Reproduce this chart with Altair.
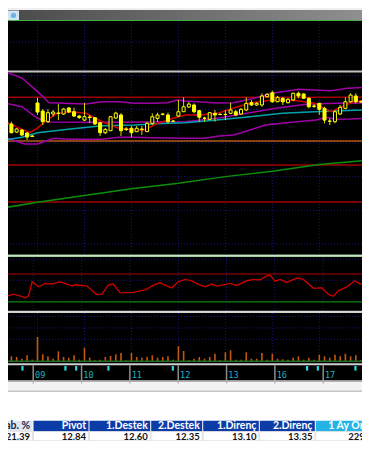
import altair as alt
import pandas as pd

# ---------------- data ----------------
bar_index = list(range(69))
open_p = [13.158, 13.141, 13.081, 13.096, 13.074, 13.052, 13.297, 13.237, 13.158, 13.215,
          13.222, 13.215, 13.260, 13.232, 13.200, 13.170, 13.193, 13.188, 13.150, 13.076,
          13.091, 13.185, 13.208, 13.104, 13.109, 13.084, 13.104, 13.084, 13.146, 13.183,
          13.213, 13.208, 13.163, 13.200, 13.232, 13.267, 13.282, 13.240, 13.185, 13.176,
          13.220, 13.213, 13.213, 13.220, 13.232, 13.215, 13.245, 13.299, 13.282, 13.282,
          13.344, 13.373, 13.306, 13.332, 13.299, 13.319, 13.369, 13.364, 13.332, 13.275,
          13.294, 13.257, 13.163, 13.158, 13.215, 13.257, 13.306, 13.349, 13.306]
high_p = [13.170, 13.158, 13.111, 13.104, 13.081, 13.059, 13.336, 13.252, 13.250, 13.245,
          13.289, 13.260, 13.267, 13.262, 13.208, 13.297, 13.208, 13.193, 13.156, 13.111,
          13.200, 13.232, 13.222, 13.118, 13.126, 13.126, 13.126, 13.156, 13.220, 13.225,
          13.222, 13.225, 13.170, 13.319, 13.339, 13.304, 13.294, 13.245, 13.195, 13.230,
          13.245, 13.220, 13.245, 13.299, 13.245, 13.260, 13.339, 13.319, 13.304, 13.369,
          13.371, 13.388, 13.349, 13.341, 13.334, 13.373, 13.381, 13.369, 13.339, 13.289,
          13.299, 13.269, 13.183, 13.245, 13.282, 13.339, 13.369, 13.369, 13.319]
low_p = [13.118, 13.072, 13.074, 13.052, 13.022, 13.044, 13.208, 13.133, 13.148, 13.195,
         13.170, 13.208, 13.222, 13.193, 13.178, 13.163, 13.148, 13.133, 13.052, 13.066,
         13.089, 13.178, 13.052, 13.089, 13.044, 13.081, 13.059, 13.081, 13.133, 13.158,
         13.204, 13.146, 13.156, 13.193, 13.230, 13.260, 13.220, 13.158, 13.158, 13.170,
         13.158, 13.208, 13.170, 13.215, 13.200, 13.208, 13.237, 13.275, 13.275, 13.269,
         13.338, 13.299, 13.304, 13.282, 13.293, 13.312, 13.332, 13.327, 13.257, 13.260,
         13.208, 13.146, 13.133, 13.146, 13.208, 13.250, 13.299, 13.294, 13.297]
close_p = [13.133, 13.076, 13.104, 13.059, 13.044, 13.048, 13.230, 13.158, 13.225, 13.230,
           13.219, 13.252, 13.230, 13.200, 13.189, 13.195, 13.189, 13.141, 13.076, 13.101,
           13.195, 13.222, 13.091, 13.100, 13.076, 13.109, 13.100, 13.146, 13.195, 13.208,
           13.215, 13.158, 13.161, 13.232, 13.269, 13.289, 13.232, 13.191, 13.183, 13.225,
           13.208, 13.211, 13.211, 13.245, 13.208, 13.250, 13.294, 13.282, 13.294, 13.349,
           13.361, 13.306, 13.339, 13.306, 13.324, 13.369, 13.349, 13.332, 13.269, 13.272,
           13.250, 13.170, 13.161, 13.232, 13.265, 13.306, 13.356, 13.306, 13.304]
volume = [90, 125, 110, 73, 147, 51, 550, 169, 125, 73, 235,
          110, 95, 147, 51, 315, 95, 37, 51, 110, 132,
          169, 198, 37, 198, 110, 95, 110, 147, 95, 110,
          125, 51, 345, 242, 37, 73, 110, 73, 110, 183,
          37, 213, 257, 51, 51, 213, 73, 73, 198, 51,
          183, 73, 59, 51, 95, 125, 51, 95, 51, 161,
          125, 95, 161, 125, 183, 125, 147, 37]

day_index = [6, 15, 24, 33, 42, 51, 60]
day_labels = ["09", "10", "11", "12", "13", "16", "17"]
signal_index = [4, 12, 14, 20, 32, 57, 59, 66, 68]

level_values = [13.531, 13.339, 13.014, 12.836, 12.561]

upper_i = [-0.2, 3.0, 6.0, 7.3, 8.2, 11.0, 15.3, 18.4, 21.6, 24.6, 27.8, 30.9, 32.8, 34.3,
           40.4, 43.6, 46.7, 51.0, 56.1, 59.0, 62.2, 65.4, 68.7]
upper_p = [13.529, 13.483, 13.381, 13.334, 13.299, 13.295, 13.289, 13.306, 13.306, 13.295,
           13.295, 13.299, 13.319, 13.312, 13.297, 13.299, 13.324, 13.369, 13.399, 13.393,
           13.388, 13.406, 13.413]
mid_i = [-0.2, 3.0, 6.0, 8.2, 18.4, 27.7, 34.3, 40.8, 46.4, 51.9, 57.9, 63.1, 68.7]
mid_p = [13.295, 13.269, 13.183, 13.156, 13.153, 13.156, 13.158, 13.185, 13.222, 13.260,
         13.289, 13.295, 13.297]
lower_i = [-0.2, 3.5, 6.0, 9.1, 12.3, 18.4, 21.6, 24.6, 27.7, 34.3, 38.0, 40.8, 43.6, 46.7,
           49.7, 52.9, 55.7, 59.4, 61.3, 63.1, 65.9, 68.7]
lower_p = [13.042, 12.992, 12.992, 13.035, 13.027, 13.027, 13.042, 13.042, 13.039, 13.035,
           13.035, 13.052, 13.059, 13.096, 13.133, 13.146, 13.158, 13.170, 13.191, 13.176,
           13.178, 13.183]
ma_i = [-0.2, 4.5, 6.0, 7.8, 9.7, 12.3, 15.3, 18.4, 21.6, 24.6, 26.4, 29.1, 32.0, 34.3,
        37.1, 40.4, 43.6, 46.7, 51.0, 55.7, 59.1, 62.2, 66.5, 68.7]
ma_p = [13.158, 13.076, 13.111, 13.170, 13.220, 13.232, 13.220, 13.158, 13.109, 13.096,
        13.096, 13.146, 13.183, 13.208, 13.208, 13.220, 13.260, 13.297, 13.319, 13.314,
        13.295, 13.232, 13.306, 13.315]
teal_i = [-0.2, 3.0, 6.0, 12.3, 18.4, 24.6, 30.9, 34.3, 40.4, 46.7, 52.9, 59.0, 68.7]
teal_p = [13.022, 13.042, 13.076, 13.104, 13.128, 13.133, 13.146, 13.150, 13.170, 13.195,
          13.220, 13.232, 13.245]
long_i = [-0.2, 6, 15, 24, 33, 42, 51, 60, 68.7]
long_p = [12.52, 12.56, 12.61, 12.66, 12.70, 12.75, 12.79, 12.84, 12.87]

rsi_i = [-0.2, 1.1, 2.3, 3.5, 4.5, 5.1, 5.8, 7.0, 8.2, 9.4, 11.0, 13.2, 14.1, 16.0, 17.8,
         18.8, 20.0, 20.9, 22.2, 24.6, 25.9, 27.1, 28.4, 29.6, 30.9, 31.8, 33.0, 34.3, 35.5,
         36.8, 38.0, 39.2, 40.2, 41.4, 42.6, 43.9, 45.8, 47.0, 48.2, 49.5, 50.1, 51.0, 52.0,
         53.2, 55.1, 56.3, 58.2, 59.7, 61.0, 61.9, 62.8, 64.4, 65.9, 66.9, 68.7]
rsi_v = [44.4, 38.2, 41.1, 38.7, 35.8, 38.2, 58.9, 51.7, 56.6, 55.6, 58.9, 53.1, 54.5, 52.7,
         40.7, 41.1, 54.5, 55.6, 43.0, 43.6, 45.9, 47.9, 54.1, 57.4, 53.1, 50.2, 58.9, 62.3,
         60.3, 55.1, 51.7, 55.6, 52.7, 54.5, 56.6, 53.7, 60.3, 62.3, 61.3, 67.5, 68.6, 59.9,
         62.3, 58.0, 64.2, 62.3, 49.4, 50.2, 40.7, 38.2, 45.9, 51.7, 60.3, 55.6, 55.6]
rsi_levels = [70, 30]

col_names = ["Yab. %", "Pivot", "1.Destek", "2.Destek", "1.Direnç", "2.Direnç", "1 Ay Ortalama"]
col_values = ["21.39", "12.84", "12.60", "12.35", "13.10", "13.35", "229.415"]

# ---------------- layout / style ----------------
W = 354  # page content width (370 window - 2 x 8 margin)
GRID = "#17177c"
YEL = "#ffff00"
price_grid = [12.25, 12.5, 12.75, 13.0, 13.25, 13.5, 13.75]
rsi_grid = [31, 61, 91]
vol_grid = [500, 750, 1000]
level_colors = ["#c4c4c4", "#a00000", "#b3581a", "#a00000", "#a00000"]
level_widths = [2, 1.5, 1.5, 1.5, 1.5]
col_left = [-40, 33.5, 89.5, 151.2, 203.2, 259.8, 315.8]
col_right = [32.5, 88.5, 150.2, 202.2, 258.8, 314.8, 430]
head_fill = ["#e3e5ec", "#0c3ca6", "#0c3ca6", "#0c3ca6", "#0c3ca6", "#0c3ca6", "#25b3e6"]
head_text = ["#1c2850", "#ffffff", "#ffffff", "#ffffff", "#ffffff", "#ffffff", "#ffffff"]

XS = alt.Scale(domain=[1.3035, 67.225], nice=False, zero=False)
PS = alt.Scale(domain=[12.153, 13.906], nice=False, zero=False)
RS = alt.Scale(domain=[14, 94.5], nice=False, zero=False)
VS = alt.Scale(domain=[0, 1078], nice=False, zero=False)
TS = alt.Scale(domain=[8, 362], nice=False, zero=False)


def X():
    return alt.X("i:Q", scale=XS, axis=None)


one = pd.DataFrame({"k": [0]})
days = pd.DataFrame({"i": day_index, "lab": day_labels})
signals = pd.DataFrame({"i": signal_index})
candles = pd.DataFrame({"i": bar_index, "open": open_p, "high": high_p,
                        "low": low_p, "close": close_p})
vol_df = pd.DataFrame({"i": bar_index, "v": volume})


def vgrid():
    return alt.Chart(days).mark_rule(color=GRID, strokeDash=[1, 2], strokeWidth=1,
                                     clip=True).encode(x=X())


def hgrid(vals, field, scale):
    return alt.Chart(pd.DataFrame({field: vals})).mark_rule(
        color=GRID, strokeDash=[1, 2], strokeWidth=1, clip=True).encode(
        y=alt.Y(f"{field}:Q", scale=scale, axis=None))


def hline(y, color, width):
    return alt.Chart(one).mark_rule(color=color, strokeWidth=width, clip=True).encode(
        x=alt.value(0), x2=alt.value(W), y=alt.value(y))


def series_line(xs, ys, color, width=1.5):
    df = pd.DataFrame({"i": xs, "p": ys})
    return alt.Chart(df).mark_line(color=color, strokeWidth=width, clip=True).encode(
        x=X(), y=alt.Y("p:Q", scale=PS, axis=None))


# ---------------- header / toolbar ----------------
grad = {"gradient": "linear", "x1": 0, "x2": 1, "y1": 0, "y2": 0,
        "stops": [{"offset": 0, "color": "#4a4a4a"}, {"offset": 1, "color": "#8f8f8f"}]}
header = alt.layer(
    alt.Chart(one).mark_rect(color=grad, clip=True).encode(
        x=alt.value(0), x2=alt.value(W), y=alt.value(2), y2=alt.value(12.6)),
    alt.Chart(one).mark_rect(color="#d4e4f0", clip=True).encode(
        x=alt.value(0), x2=alt.value(11), y=alt.value(2.5), y2=alt.value(12.3)),
    alt.Chart(one).mark_point(shape="circle", filled=True, color="#3fa3e3", size=28,
                              clip=True).encode(x=alt.value(5.5), y=alt.value(7.4)),
    hline(12.6, "#45b045", 1.3),
).properties(width=W, height=13, view=alt.ViewBackground(fill="#eeeef3", stroke=None))

# ---------------- price panel ----------------
lev_df = pd.DataFrame({"p": level_values, "c": level_colors, "w": level_widths})
levels = alt.Chart(lev_df).mark_rule(clip=True).encode(
    y=alt.Y("p:Q", scale=PS, axis=None),
    color=alt.Color("c:N", scale=None),
    strokeWidth=alt.StrokeWidth("w:Q", scale=None))

cbase = alt.Chart(candles)
wicks = cbase.mark_rule(color="#d8d800", strokeWidth=1, clip=True).encode(
    x=X(), y=alt.Y("low:Q", scale=PS, axis=None), y2="high:Q")
bodies = cbase.mark_bar(size=3, stroke=YEL, strokeWidth=1, clip=True).encode(
    x=X(), y=alt.Y("open:Q", scale=PS, axis=None), y2="close:Q",
    fill=alt.condition("datum.close < datum.open", alt.value(YEL), alt.value("#000000")))

price = alt.layer(
    vgrid(), hgrid(price_grid, "p", PS), levels,
    series_line(long_i, long_p, "#0b8f0b"),
    series_line(lower_i, lower_p, "#a000a8"),
    series_line(mid_i, mid_p, "#a000a8"),
    series_line(upper_i, upper_p, "#a000a8"),
    series_line(teal_i, teal_p, "#00a3aa"),
    series_line(ma_i, ma_p, "#d00000"),
    wicks, bodies,
    hline(234.7, "#93c793", 2.6),
    hline(234.7, "#e2f2e2", 0.8),
).properties(width=W, height=236, view=alt.ViewBackground(fill="#000000", stroke=None))

# ---------------- RSI panel ----------------
rsi_df = pd.DataFrame({"i": rsi_i, "r": rsi_v})
rsi_lv = pd.DataFrame({"r": rsi_levels, "c": ["#7a0000", "#0b5e0b"]})
rsi = alt.layer(
    vgrid(), hgrid(rsi_grid, "r", RS),
    alt.Chart(rsi_lv).mark_rule(strokeWidth=1.6, clip=True).encode(
        y=alt.Y("r:Q", scale=RS, axis=None), color=alt.Color("c:N", scale=None)),
    alt.Chart(rsi_df).mark_line(color="#c80000", strokeWidth=1.4, clip=True).encode(
        x=X(), y=alt.Y("r:Q", scale=RS, axis=None)),
    hline(54.9, "#c4c4c4", 2.2),
    hline(54.9, "#f2f2f2", 0.8),
).properties(width=W, height=56, view=alt.ViewBackground(fill="#000000", stroke=None))

# ---------------- volume panel ----------------
vol = alt.layer(
    vgrid(), hgrid(vol_grid, "v", VS),
    alt.Chart(vol_df).mark_bar(size=1.6, color="#c4580e", clip=True).encode(
        x=X(), y=alt.Y("v:Q", scale=VS, axis=None), y2=alt.datum(0)),
    hline(48.3, "#1f6e1f", 1.6),
).properties(width=W, height=49, view=alt.ViewBackground(fill="#000000", stroke=None))

# ---------------- x axis strip ----------------
xstrip = alt.layer(
    hline(2.2, "#cfcfcf", 2),
    alt.Chart(days).mark_rule(color="#8c8c8c", strokeWidth=1.5, clip=True).encode(
        x=X(), y=alt.value(3.2), y2=alt.value(18)),
    alt.Chart(signals).mark_rule(color="#2ad8ea", strokeWidth=2.2, clip=True).encode(
        x=X(), y=alt.value(4), y2=alt.value(8.6)),
    alt.Chart(days).mark_text(align="left", baseline="middle", dx=1.8, font="DejaVu Sans Mono",
                              fontSize=8.5, color="#1cb4c6", clip=True).encode(
        x=X(), y=alt.value(12.6), text="lab:N"),
).properties(width=W, height=18, view=alt.ViewBackground(fill="#000000", stroke=None))

# ---------------- gap strip ----------------
gap = alt.layer(
    alt.Chart(one).mark_rect(color="#f3f3f3", clip=True).encode(
        x=alt.value(0), x2=alt.value(W), y=alt.value(0), y2=alt.value(11)),
    hline(0.9, "#9c9c9c", 1.8),
    hline(11.2, "#c6c6c6", 1.4),
    alt.Chart(days).mark_rule(color="#b0b0b0", strokeWidth=1.3, clip=True).encode(
        x=X(), y=alt.value(0), y2=alt.value(3.5)),
).properties(width=W, height=40, view=alt.ViewBackground(fill="#ffffff", stroke=None))

# ---------------- table ----------------
tab = pd.DataFrame({"name": col_names, "val": col_values, "l": col_left, "r": col_right,
                    "hf": head_fill, "ht": head_text})
tab["tx"] = tab["r"] - 2.4
main_cols = tab.iloc[:6]
last_col = tab.iloc[6:]
FONT = "Lato"
table = alt.layer(
    alt.Chart(tab).mark_rect(clip=True).encode(
        x=alt.X("l:Q", scale=TS, axis=None), x2="r:Q",
        y=alt.value(0.7), y2=alt.value(11.6), fill=alt.Fill("hf:N", scale=None)),
    alt.Chart(tab).mark_rect(clip=True, fill="#ffffff", stroke="#dadada", strokeWidth=0.8).encode(
        x=alt.X("l:Q", scale=TS, axis=None), x2="r:Q",
        y=alt.value(11.6), y2=alt.value(20.8)),
    alt.Chart(main_cols).mark_text(align="right", baseline="alphabetic", font=FONT,
                                   fontWeight="bold", fontSize=10.5, clip=True).encode(
        x=alt.X("tx:Q", scale=TS, axis=None), y=alt.value(9.3), text="name:N",
        color=alt.Color("ht:N", scale=None)),
    alt.Chart(main_cols).mark_text(align="right", baseline="alphabetic", font=FONT,
                                   fontWeight="bold", fontSize=9.5, color="#111111",
                                   clip=True).encode(
        x=alt.X("tx:Q", scale=TS, axis=None), y=alt.value(19.9), text="val:N"),
    alt.Chart(last_col).mark_text(align="left", baseline="alphabetic", font=FONT,
                                  fontWeight="bold", fontSize=10.5, dx=12.5, clip=True).encode(
        x=alt.X("l:Q", scale=TS, axis=None), y=alt.value(9.3), text="name:N",
        color=alt.Color("ht:N", scale=None)),
    alt.Chart(last_col).mark_text(align="left", baseline="alphabetic", font=FONT,
                                  fontWeight="bold", fontSize=9.5, dx=32.5, color="#111111",
                                  clip=True).encode(
        x=alt.X("l:Q", scale=TS, axis=None), y=alt.value(19.9), text="val:N"),
).properties(width=W, height=21, view=alt.ViewBackground(fill="#ffffff", stroke=None))

chart = alt.vconcat(header, price, rsi, vol, xstrip, gap, table, spacing=0,
                    bounds="flush").resolve_scale(
    x="independent", y="independent").properties(
    padding={"left": 0, "top": 0, "right": 0, "bottom": 0},
    background="#ffffff").configure_view(stroke=None)

chart.save("out.html", embed_options={"renderer": "svg", "actions": False})
